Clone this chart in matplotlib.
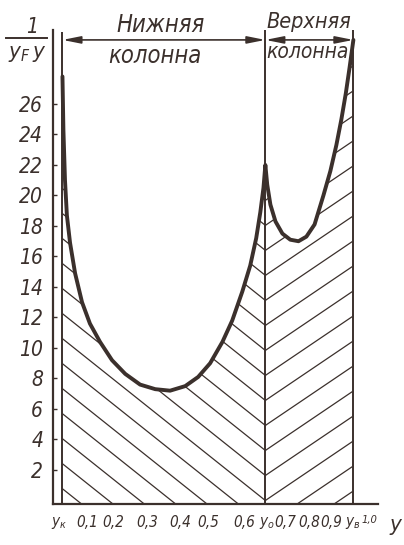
import matplotlib.pyplot as plt
from matplotlib.patches import Polygon

plt.rcParams['font.family'] = ['DejaVu Sans']
plt.rcParams['font.stretch'] = 'condensed'
plt.rcParams['mathtext.fontset'] = 'custom'
plt.rcParams['mathtext.it'] = 'DejaVu Sans:style=italic:stretch=condensed'
plt.rcParams['mathtext.rm'] = 'DejaVu Sans:style=italic:stretch=condensed'

ink = '#3b302c'

# column break points (relative height y)
y_k = 0.03
y_o = 0.673
y_v = 0.952

# 1/(yF*y) along the lower column
lower_x = [0.030, 0.033, 0.038, 0.044, 0.054, 0.070, 0.092, 0.117, 0.149, 0.187,
           0.229, 0.276, 0.324, 0.371, 0.419, 0.460, 0.498, 0.537, 0.568, 0.600,
           0.625, 0.644, 0.657, 0.667, 0.673]
lower_v = [27.8, 24.3, 21.0, 18.7, 16.9, 14.9, 13.0, 11.6, 10.4, 9.2,
           8.3, 7.6, 7.3, 7.2, 7.5, 8.1, 9.0, 10.4, 11.8, 13.7,
           15.4, 17.2, 18.9, 20.5, 22.0]

# 1/(yF*y) along the upper column
upper_x = [0.673, 0.679, 0.689, 0.705, 0.727, 0.752, 0.778, 0.803, 0.829, 0.857,
           0.879, 0.898, 0.914, 0.928, 0.940, 0.952]
upper_v = [22.0, 20.7, 19.4, 18.3, 17.5, 17.1, 17.0, 17.3, 18.1, 20.0,
           21.6, 23.3, 25.0, 26.7, 28.4, 30.2]

y_ticks = [2, 4, 6, 8, 10, 12, 14, 16, 18, 20, 22, 24, 26]
x_tick_pos = [0.019, 0.108, 0.190, 0.298, 0.403, 0.492, 0.606, 0.679, 0.736, 0.813, 0.883, 0.950]
x_tick_lab = [r'$y_к$', '0,1', '0,2', '0,3', '0,4', '0,5', '0,6', r'$y_о$', '0,7', '0,8', '0,9', r'$y_в$']

fig = plt.figure(figsize=(4.04, 5.45), dpi=100)
ax = fig.add_axes([53 / 404, 1 - 504 / 545, 325 / 404, 474 / 545])
y_bot, y_top = -0.23, 30.85
ax.set_xlim(0, 1.03)
ax.set_ylim(y_bot, y_top)

for s in ['top', 'right']:
    ax.spines[s].set_visible(False)
for s in ['left', 'bottom']:
    ax.spines[s].set_color(ink)
    ax.spines[s].set_linewidth(1.6)

# curve
cx = lower_x + upper_x[1:]
cv = lower_v + upper_v[1:]
ax.plot(cx, cv, color=ink, lw=2.8, solid_joinstyle='round', solid_capstyle='round', zorder=5)

# hatched area under the curve
verts = [(y_k, y_bot)] + list(zip(cx, cv)) + [(y_v, y_bot)]
region = Polygon(verts, closed=True, facecolor='none', edgecolor='none')
ax.add_patch(region)

dv = 1.64
s_low, s_up = 16.5, 14.0
for k in range(-30, 30):
    ln, = ax.plot([y_k, y_o], [k * dv + s_low * (y_o - y_k), k * dv], color=ink, lw=0.9)
    ln.set_clip_path(region)
    ln, = ax.plot([y_o, y_v], [k * dv, k * dv + s_up * (y_v - y_o)], color=ink, lw=0.9)
    ln.set_clip_path(region)

# column boundaries
ax.vlines([y_k], y_bot, 30.7, color=ink, lw=1.4)
ax.vlines([y_o, y_v], y_bot, y_top, color=ink, lw=1.4)

# span arrows
arrow = dict(arrowstyle='<|-|>,head_length=0.9,head_width=0.18', color=ink, lw=1.2,
             shrinkA=0, shrinkB=0, mutation_scale=12)
ax.annotate('', xy=(y_k, 30.2), xytext=(y_o, 30.2), arrowprops=arrow)
ax.annotate('', xy=(y_o, 30.2), xytext=(y_v, 30.2), arrowprops=arrow)

lab = dict(color=ink, style='italic', stretch='condensed', ha='center', va='center', clip_on=False)
ax.text(0.340, 31.2, 'Нижняя', fontsize=17, **lab)
ax.text(0.324, 29.15, 'колонна', fontsize=17, **lab)
ax.text(0.810, 31.4, 'Верхняя', fontsize=15.5, **lab)
ax.text(0.806, 29.4, 'колонна', fontsize=15, **lab)

# axis title 1/(yF*y)
ax.text(-0.067, 31.05, '1', fontsize=15, **lab)
ax.plot([-0.149, -0.019], [30.3, 30.3], color=ink, lw=1.4, clip_on=False)
ax.text(-0.083, 29.3, r'$y_F\,y$', fontsize=16, **lab)

ax.set_yticks(y_ticks)
ax.set_yticklabels([str(v) for v in y_ticks], fontsize=15, style='italic',
                   stretch='condensed', color=ink)
ax.tick_params(axis='y', direction='in', length=3, width=1, color=ink, pad=7)

ax.set_xticks(x_tick_pos)
ax.set_xticklabels(x_tick_lab, fontsize=11, style='italic', stretch='condensed', color=ink)
ax.tick_params(axis='x', length=0, pad=8)
ax.text(1.004, -1.3, '1,0', fontsize=8, **lab)
ax.text(1.086, -1.6, 'y', fontsize=16, **lab)

fig.savefig('out.png', dpi=100, facecolor='white')
